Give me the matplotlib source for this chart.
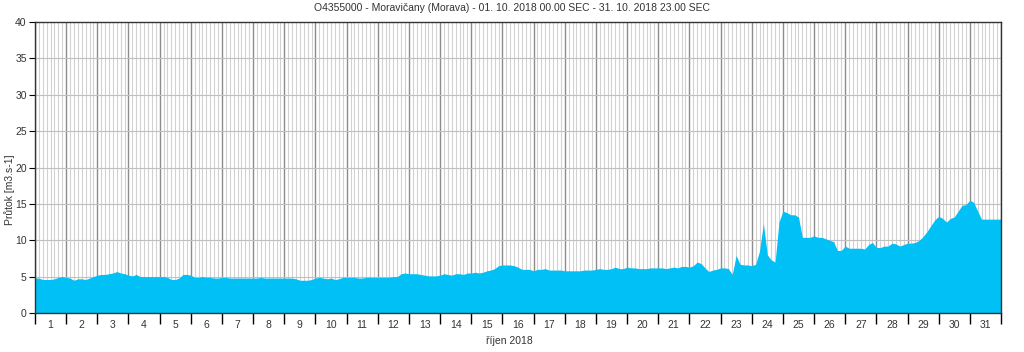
import numpy as np
import matplotlib
matplotlib.use('Agg')
import matplotlib.pyplot as plt

plt.rcParams['font.family'] = ['Liberation Sans', 'DejaVu Sans']

title = 'O4355000 - Moravičany (Morava) - 01. 10. 2018 00.00 SEC - 31. 10. 2018 23.00 SEC'
ylabel = 'Průtok [m3.s-1]'
xlabel = 'říjen 2018'
day_labels = [str(d) for d in range(1, 32)]

# flow [m3/s], one value every 3 hours (8 per day)
flow = [
    4.8, 4.8, 4.6, 4.6, 4.6, 4.7, 4.9, 5.0,   # 1
    4.9, 4.8, 4.5, 4.7, 4.7, 4.6, 4.8, 5.0,   # 2
    5.2, 5.3, 5.3, 5.4, 5.5, 5.7, 5.5, 5.4,   # 3
    5.2, 5.1, 5.3, 5.0, 5.0, 5.0, 5.0, 5.0,   # 4
    5.0, 5.0, 4.9, 4.6, 4.6, 4.8, 5.3, 5.3,   # 5
    5.2, 4.9, 4.9, 5.0, 4.9, 4.9, 4.8, 4.8,   # 6
    4.9, 4.9, 4.8, 4.8, 4.8, 4.8, 4.8, 4.8,   # 7
    4.8, 4.8, 4.9, 4.8, 4.8, 4.8, 4.8, 4.8,   # 8
    4.8, 4.8, 4.8, 4.7, 4.5, 4.5, 4.5, 4.6,   # 9
    4.8, 4.9, 4.8, 4.7, 4.8, 4.6, 4.7, 4.9,   # 10
    4.9, 4.9, 4.9, 4.8, 4.8, 4.9, 4.9, 4.9,   # 11
    4.9, 4.9, 4.9, 4.9, 5.0, 5.0, 5.4, 5.5,   # 12
    5.4, 5.4, 5.4, 5.3, 5.2, 5.1, 5.1, 5.1,   # 13
    5.2, 5.4, 5.3, 5.2, 5.4, 5.4, 5.3, 5.5,   # 14
    5.5, 5.6, 5.5, 5.6, 5.8, 5.9, 6.1, 6.5,   # 15
    6.6, 6.6, 6.6, 6.5, 6.3, 6.0, 6.0, 6.0,   # 16
    5.8, 6.0, 6.0, 6.1, 5.9, 5.9, 5.9, 5.9,   # 17
    5.8, 5.8, 5.8, 5.8, 5.8, 5.9, 5.9, 5.9,   # 18
    6.0, 6.1, 6.0, 6.0, 6.1, 6.3, 6.1, 6.1,   # 19
    6.3, 6.2, 6.2, 6.1, 6.1, 6.1, 6.2, 6.2,   # 20
    6.2, 6.2, 6.1, 6.2, 6.3, 6.2, 6.4, 6.4,   # 21
    6.3, 6.5, 7.0, 6.8, 6.2, 5.7, 5.9, 6.0,   # 22
    6.2, 6.2, 6.1, 5.3, 7.9, 6.7, 6.6, 6.6,   # 23
    6.5, 6.7, 8.5, 12.3, 8.0, 7.3, 7.0, 12.5, # 24
    14.0, 13.8, 13.5, 13.5, 13.2, 10.4, 10.4, 10.4,  # 25
    10.6, 10.4, 10.4, 10.2, 10.0, 9.8, 8.6, 8.6,     # 26
    9.2, 8.9, 8.9, 8.9, 8.9, 8.8, 9.4, 9.7,   # 27
    9.0, 9.0, 9.2, 9.2, 9.6, 9.5, 9.2, 9.4,   # 28
    9.6, 9.6, 9.7, 10.0, 10.5, 11.2, 12.0, 12.8,     # 29
    13.3, 13.0, 12.5, 13.0, 13.2, 14.0, 14.8, 14.9,  # 30
    15.5, 15.2, 14.0, 12.9, 12.9, 12.9, 12.9, 12.9,  # 31
]

hours = np.arange(len(flow)) * 3
hours = np.append(hours, 744)
flow_plot = np.append(flow, flow[-1])

fig = plt.figure(figsize=(10.24, 3.52), dpi=100)
ax = fig.add_axes([35/1024, 39/352, 966/1024, 291/352])

# grid: every 3 hours light, days darker, horizontal every 5
for h in range(0, 745, 3):
    if h % 24 == 0:
        ax.axvline(h, color='#8c8c8c', lw=1.0, zorder=1)
    else:
        ax.axvline(h, color='#d2d2d2', lw=0.8, zorder=1)
for yv in range(5, 40, 5):
    ax.axhline(yv, color='#c0c0c0', lw=0.8, zorder=1)

ax.fill_between(hours, flow_plot, 0, color='#00c0f5', lw=0, zorder=2)

ax.set_xlim(0, 744)
ax.set_ylim(0, 40)
ax.set_yticks(np.arange(0, 41, 5))
ax.tick_params(axis='y', labelsize=7.5, length=4, width=0.8, pad=2, labelcolor='#333333')

ax.set_xticks(np.arange(0, 745, 24))
ax.set_xticklabels([])
ax.set_xticks(np.arange(12, 744, 24), minor=True)
ax.set_xticklabels(day_labels, minor=True)
ax.tick_params(axis='x', which='major', length=8, width=1.0, direction='out')
ax.tick_params(axis='x', which='minor', length=0, labelsize=7.5, pad=5, labelcolor='#333333')

for s in ax.spines.values():
    s.set_color('#333333')
    s.set_linewidth(1.0)
    s.set_zorder(3)

fig.text(512/1024, 1 - 8/352, title, ha='center', va='center', fontsize=7.5, color='#333333')
fig.text(509/1024, 1 - 341/352, xlabel, ha='center', va='center', fontsize=7.5, color='#333333')
fig.text(10/1024, 1 - 190/352, ylabel, ha='center', va='center', rotation=90, fontsize=7.5, color='#333333')

fig.savefig('out.png', dpi=100)
